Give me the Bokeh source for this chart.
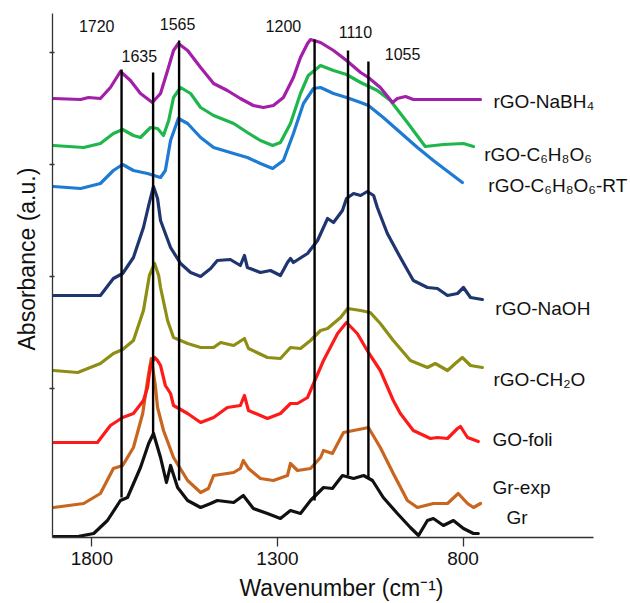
from bokeh.plotting import figure
from bokeh.models import Range1d, FixedTicker, CustomJSTickFormatter, Label, Title
from bokeh.embed import file_html
from bokeh.resources import INLINE

# ---------------- data (wavenumber cm-1, absorbance a.u. with offsets) -------------
nabh4_wn = [1903, 1830, 1809, 1777, 1750, 1723, 1696, 1669, 1637, 1615, 1596, 1580, 1567, 1542, 1507,
            1472, 1435, 1400, 1365, 1338, 1311, 1284, 1257, 1238, 1219, 1211, 1184, 1149, 1114, 1076,
            1055, 1023, 990, 977, 955, 934, 880, 753]
nabh4_abs = [439, 438, 440, 439, 450, 466, 457, 444, 435, 444, 467, 487, 494, 487, 470,
             454, 447, 439, 432, 430, 432, 440, 460, 480, 494, 498, 495, 487, 477, 465,
             460, 450, 435, 439, 441, 438, 438, 438]

c6_wn = [1903, 1822, 1777, 1742, 1717, 1688, 1669, 1642, 1623, 1607, 1593, 1580, 1561, 1534, 1507,
         1472, 1418, 1381, 1346, 1313, 1292, 1265, 1238, 1217, 1184, 1149, 1114, 1076, 1031, 996,
         950, 902, 853, 799, 772]
c6_abs = [392, 390, 394, 404, 408, 402, 400, 410, 409, 402, 417, 440, 450, 444, 430,
          422, 414, 405, 397, 392, 395, 414, 444, 462, 472, 467, 463, 455, 447, 437,
          415, 391, 393, 394, 391]

c6rt_wn = [1903, 1830, 1777, 1742, 1717, 1688, 1650, 1615, 1602, 1588, 1567, 1542, 1507, 1472, 1418,
           1381, 1346, 1313, 1284, 1257, 1230, 1203, 1184, 1149, 1114, 1076, 1055, 1015, 969, 923,
           880, 834, 802]
c6rt_abs = [351, 349, 354, 367, 373, 367, 364, 360, 367, 397, 419, 414, 400, 390, 384,
            380, 374, 369, 377, 404, 434, 449, 450, 444, 440, 435, 432, 420, 405, 390,
            377, 364, 355]

naoh_wn = [1903, 1777, 1742, 1717, 1688, 1661, 1647, 1634, 1623, 1615, 1588, 1561, 1534, 1507, 1480,
           1462, 1427, 1400, 1389, 1381, 1346, 1319, 1292, 1273, 1265, 1257, 1219, 1192, 1165, 1149,
           1125, 1114, 1095, 1076, 1058, 1041, 1031, 1004, 969, 934, 896, 869, 842, 815, 799,
           780, 748]
naoh_abs = [242, 242, 259, 264, 280, 310, 332, 351, 339, 317, 290, 274, 265, 261, 269,
            277, 278, 272, 282, 270, 265, 267, 262, 275, 279, 275, 284, 297, 319, 315,
            327, 339, 344, 342, 346, 342, 330, 304, 280, 257, 250, 249, 242, 244, 250,
            240, 238]

ch2o_wn = [1903, 1838, 1777, 1742, 1717, 1688, 1661, 1645, 1631, 1620, 1615, 1596, 1580, 1542, 1507,
           1472, 1453, 1418, 1389, 1378, 1327, 1292, 1265, 1238, 1211, 1184, 1165, 1130, 1111, 1076,
           1050, 1023, 988, 942, 896, 875, 842, 821, 802, 780, 748]
ch2o_abs = [167, 165, 174, 184, 188, 197, 227, 262, 274, 262, 250, 217, 200, 194, 190,
            190, 195, 192, 199, 189, 180, 179, 190, 189, 197, 207, 209, 220, 229, 227,
            225, 214, 197, 177, 170, 174, 167, 174, 180, 172, 170]

gofoli_wn = [1903, 1785, 1750, 1717, 1688, 1661, 1650, 1642, 1631, 1623, 1615, 1602, 1588, 1580, 1542,
             1507, 1472, 1435, 1400, 1389, 1378, 1327, 1292, 1265, 1246, 1219, 1176, 1138, 1114, 1085,
             1055, 1023, 988, 969, 934, 888, 869, 842, 815, 807, 788, 759]
gofoli_abs = [95, 95, 112, 120, 124, 137, 150, 172, 180, 177, 172, 152, 144, 132, 124,
              115, 120, 130, 132, 142, 127, 119, 124, 134, 134, 140, 177, 204, 215, 204,
              185, 167, 137, 124, 107, 99, 100, 99, 109, 111, 100, 96]

grexp_wn = [1903, 1822, 1777, 1742, 1717, 1688, 1663, 1650, 1640, 1629, 1623, 1607, 1580, 1542, 1507,
            1486, 1472, 1418, 1400, 1392, 1378, 1346, 1311, 1273, 1265, 1246, 1211, 1184, 1176, 1152,
            1122, 1068, 1055, 1023, 988, 950, 923, 880, 842, 813, 788, 772, 753]
grexp_abs = [30, 34, 44, 69, 72, 90, 124, 157, 179, 152, 130, 107, 80, 57, 45,
             49, 62, 65, 69, 77, 69, 59, 57, 62, 74, 67, 69, 80, 87, 84,
             105, 109, 110, 90, 64, 37, 30, 34, 34, 44, 34, 30, 34]

gr_wn = [1903, 1838, 1795, 1758, 1723, 1704, 1669, 1647, 1634, 1615, 1599, 1588, 1569, 1542, 1507,
         1480, 1462, 1418, 1392, 1365, 1327, 1292, 1265, 1238, 1211, 1176, 1152, 1125, 1095, 1068,
         1044, 1015, 977, 942, 920, 896, 880, 853, 826, 799, 772, 759]
gr_abs = [1, 1, 4, 17, 37, 40, 70, 94, 104, 80, 55, 72, 50, 37, 30,
          34, 37, 35, 42, 29, 24, 19, 27, 24, 37, 50, 49, 62, 59, 62,
          57, 40, 24, 10, 2, 17, 19, 12, 17, 9, 4, 4]

series_names = ["Gr", "Gr-exp", "GO-foli", "rGO-CH\u2082O", "rGO-NaOH",
                "rGO-C\u2086H\u2088O\u2086-RT", "rGO-C\u2086H\u2088O\u2086", "rGO-NaBH\u2084"]

# marked bands
band_wn = [1720, 1635, 1565, 1200, 1110, 1055]
band_top = [468, 465, 497, 498, 487, 476]
band_bottom = [40, 104, 57, 37, 62, 60]
band_labels = ["1720", "1635", "1565", "1200", "1110", "1055"]

x_ticks = [1800, 1300, 800]
y_ticks = [149, 261, 373, 485]

# ---------------- styling / layout --------------------------------------------------
FONT = "Liberation Sans"
colors = ["#111111", "#C8651F", "#FF1A1A", "#8E8E16", "#1F3570",
          "#1E7BD3", "#1FB64C", "#A21FA9"]
series = [(gr_wn, gr_abs), (grexp_wn, grexp_abs), (gofoli_wn, gofoli_abs),
          (ch2o_wn, ch2o_abs), (naoh_wn, naoh_abs), (c6rt_wn, c6rt_abs),
          (c6_wn, c6_abs), (nabh4_wn, nabh4_abs)]

# anchor positions (data units) for text
name_anchor_x = [683, 721, 721, 718, 713, 732, 743, 718]
name_anchor_y = [20, 50, 98, 158, 229, 352, 383, 436]
band_label_x = [1787, 1672, 1569, 1284, 1090, 963]
band_label_y = [512, 482, 514, 512, 506, 484]

p = figure(width=630, height=603, x_range=Range1d(1906, 349), y_range=Range1d(0, 524),
           output_backend="svg", toolbar_location=None,
           min_border_left=52, min_border_right=0, min_border_top=13, min_border_bottom=66)
p.outline_line_color = None
p.grid.visible = False
p.background_fill_color = "white"

for (xs, ys), c in zip(series, colors):
    p.line(xs, ys, line_color=c, line_width=3.2, line_join="round", line_cap="round")

p.segment(x0=band_wn, y0=band_bottom, x1=band_wn, y1=band_top,
          line_color="black", line_width=2.4)

for t, x, y in zip(band_labels, band_label_x, band_label_y):
    p.add_layout(Label(x=x, y=y, text=t, text_font=FONT, text_font_size="16px",
                       text_color="#111111", text_align="center", text_baseline="middle"))

for t, x, y in zip(series_names, name_anchor_x, name_anchor_y):
    p.add_layout(Label(x=x, y=y, text=t, text_font=FONT, text_font_size="19px",
                       text_color="#111111", text_align="left", text_baseline="middle"))

# y axis title
p.add_layout(Title(text="Absorbance  (a.u.)", align="left", offset=187, standoff=20,
                   text_font=FONT, text_font_size="23px", text_font_style="normal",
                   text_color="#111111"), "left")

# axes
p.xaxis.bounds = (449, 1906)
p.xaxis.ticker = FixedTicker(ticks=x_ticks)
p.xaxis.minor_tick_line_color = None
p.xaxis.major_tick_in = 0
p.xaxis.major_tick_out = 9
p.xaxis.major_label_standoff = 5
p.xaxis.major_label_text_font = FONT
p.xaxis.major_label_text_font_size = "19px"
p.xaxis.major_label_text_color = "#111111"
p.xaxis.axis_label = "Wavenumber (cm\u207b\u00b9)"
p.xaxis.axis_label_standoff = 7
p.xaxis.axis_label_text_font = FONT
p.xaxis.axis_label_text_font_size = "23px"
p.xaxis.axis_label_text_font_style = "normal"
p.xaxis.axis_label_text_color = "#111111"

p.yaxis.ticker = FixedTicker(ticks=y_ticks)
p.yaxis.minor_tick_line_color = None
p.yaxis.major_tick_in = 2
p.yaxis.major_tick_out = 3
p.yaxis.major_label_standoff = 0
p.yaxis.formatter = CustomJSTickFormatter(code="return ''")

for ax in (p.xaxis, p.yaxis):
    ax.axis_line_color = "#333333"
    ax.axis_line_width = 1.3
    ax.major_tick_line_color = "#333333"
    ax.major_tick_line_width = 1.3

open("out.html", "w").write(file_html(p, INLINE))
